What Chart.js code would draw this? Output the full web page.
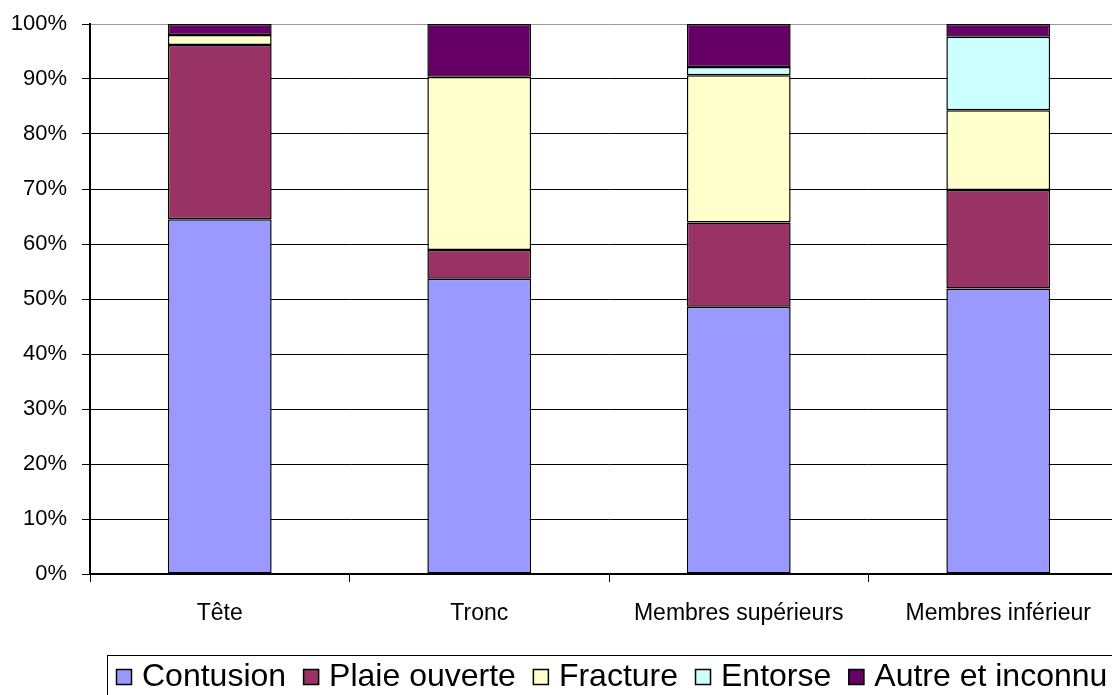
<!DOCTYPE html>
<html>
<head>
<meta charset="utf-8">
<script src="https://cdn.jsdelivr.net/npm/chart.js@4/dist/chart.umd.min.js"></script>
<style>
  html, body { margin: 0; padding: 0; background: #fff; overflow: hidden; width: 1112px; height: 695px; }
  #wrap { position: absolute; left: 0; top: 0; width: 1128px; height: 695px; }
  canvas { display: block; }
</style>
</head>
<body>
<div id="wrap"><canvas id="c" width="1128" height="695"></canvas></div>
<script>
// ---- data ----
const categories = ['Tête', 'Tronc', 'Membres supérieurs', 'Membres inférieur'];
const seriesNames = ['Contusion', 'Plaie ouverte', 'Fracture', 'Entorse', 'Autre et inconnu'];
const contusion = [64.5, 53.7, 48.6, 51.9];
const plaieOuverte = [31.7, 5.2, 15.3, 17.9];
const fracture = [1.8, 31.5, 26.8, 14.5];
const entorse = [0, 0, 1.5, 13.4];
const autre = [2.0, 9.6, 7.8, 2.3];
const yTickLabels = ['0%', '10%', '20%', '30%', '40%', '50%', '60%', '70%', '80%', '90%', '100%'];

// ---- style ----
const colors = ['#9999FF', '#993366', '#FFFFCC', '#CCFFFF', '#660066'];
const FONT = '"Liberation Sans", Arial, sans-serif';

const seriesValues = [contusion, plaieOuverte, fracture, entorse, autre];
const datasets = seriesNames.map((name, i) => ({
  label: name,
  data: seriesValues[i],
  backgroundColor: colors[i],
  borderColor: '#000',
  borderWidth: 1.5,
  borderSkipped: false,
  categoryPercentage: 1.0,
  barPercentage: 0.4
}));

const legendPlugin = {
  id: 'boxLegend',
  afterDraw(chart) {
    const ctx = chart.ctx;
    ctx.save();
    ctx.lineWidth = 1;
    ctx.strokeStyle = '#000';
    ctx.strokeRect(107.5, 655.5, 1200, 100);
    ctx.font = '32px ' + FONT;
    ctx.textBaseline = 'middle';
    ctx.textAlign = 'left';
    const cy = 677;
    const box = 16;
    let x = 116;
    chart.data.datasets.forEach(ds => {
      ctx.fillStyle = ds.backgroundColor;
      ctx.fillRect(x, cy - box / 2, box, box);
      ctx.strokeStyle = '#000';
      ctx.lineWidth = 1.5;
      ctx.strokeRect(x + 0.5, cy - box / 2 + 0.5, box - 1, box - 1);
      x += box + 10;
      ctx.fillStyle = '#000';
      ctx.fillText(ds.label, x, cy);
      x += ctx.measureText(ds.label).width + 17;
    });
    ctx.restore();
  }
};

new Chart(document.getElementById('c'), {
  type: 'bar',
  data: { labels: categories, datasets },
  options: {
    responsive: false,
    animation: false,
    layout: { padding: { top: 24, left: 0, right: 0, bottom: 0 } },
    plugins: { legend: { display: false }, tooltip: { enabled: false } },
    scales: {
      x: {
        stacked: true,
        afterFit(scale) { scale.height = 121; },
        grid: {
          display: true, drawOnChartArea: false, drawTicks: true,
          tickLength: 8, color: '#000', lineWidth: 1, offset: true
        },
        border: { display: true, color: '#000', width: 1.5 },
        ticks: { color: '#000', font: { family: FONT, size: 23 }, padding: 18, maxRotation: 0, autoSkip: false }
      },
      y: {
        stacked: true,
        min: 0, max: 100,
        afterFit(scale) { scale.width = 90; scale.paddingTop = 12; scale.paddingBottom = 12; },
        grid: {
          color: (c) => (c.tick && c.tick.value === 100) ? '#9a9a9a' : '#000',
          tickColor: '#000',
          lineWidth: 1, tickLength: 8, drawTicks: true
        },
        border: { display: true, color: '#000', width: 2 },
        ticks: {
          stepSize: 10, color: '#000', padding: 15,
          font: { family: FONT, size: 22 },
          callback: (v, i) => yTickLabels[i]
        }
      }
    }
  },
  plugins: [legendPlugin]
});
</script>
</body>
</html>
